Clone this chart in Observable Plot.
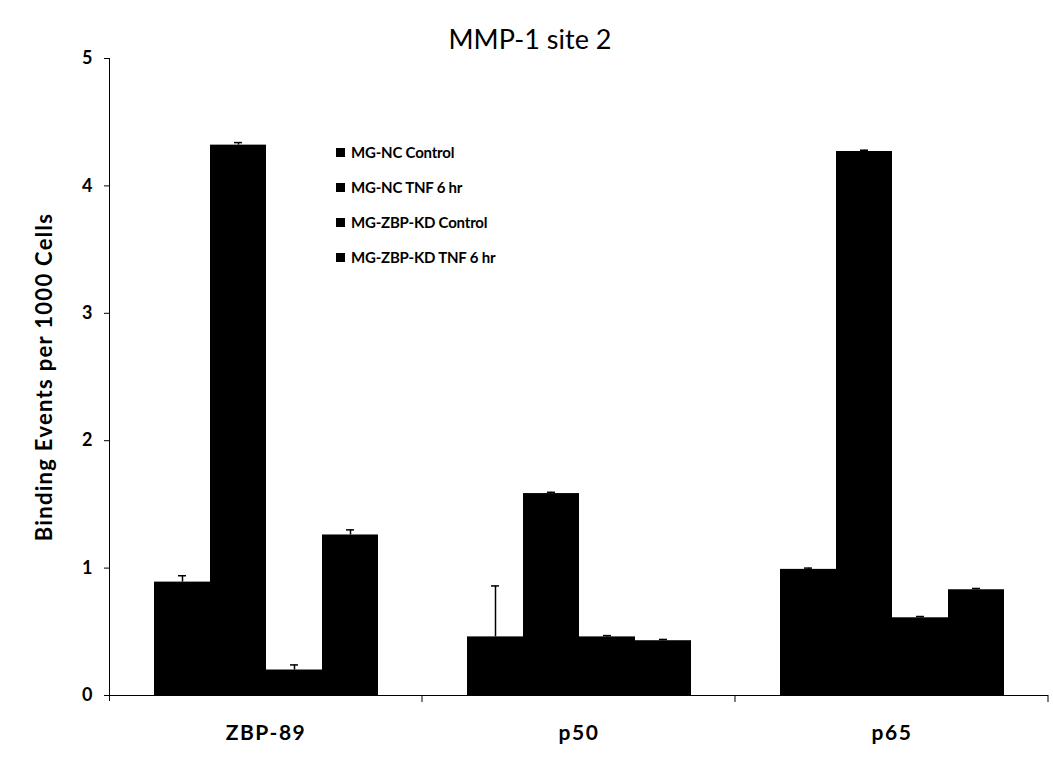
<!DOCTYPE html>
<html>
<head>
<meta charset="utf-8">
<script src="https://cdn.jsdelivr.net/npm/d3@7"></script>
<script src="https://cdn.jsdelivr.net/npm/@observablehq/plot@0.6"></script>
<style>
  body { margin: 0; background: #fff; font-family: Lato, "Open Sans", sans-serif; }
  #wrap { position: relative; width: 1053px; height: 776px; }
  #title { position: absolute; top: 25px; left: 0; width: 1060px; text-align: center; font-size: 27px; line-height: 27px; color: #000; }
  #legend { position: absolute; left: 336px; top: 143px; font-weight: bold; font-size: 15px; letter-spacing: -0.2px; color: #000; }
  #legend .row { height: 35px; display: flex; align-items: flex-start; }
  #legend .sw { width: 9px; height: 9px; background: #000; margin-right: 6px; margin-top: 5px; }
</style>
</head>
<body>
<div id="wrap">
  <div id="title">MMP-1 site 2</div>
  <div id="chart"></div>
  <div id="legend"></div>
</div>
<script>
const categories = ["ZBP-89", "p50", "p65"];
const seriesNames = ["MG-NC Control", "MG-NC TNF 6 hr", "MG-ZBP-KD Control", "MG-ZBP-KD TNF 6 hr"];
// values per category, in series order
const zbp89Values = [0.89, 4.32, 0.20, 1.26];
const p50Values   = [0.46, 1.585, 0.46, 0.43];
const p65Values   = [0.99, 4.27, 0.61, 0.83];
const zbp89Errors = [0.05, 0.02, 0.04, 0.04];
const p50Errors   = [0.40, 0.01, 0.01, 0.01];
const p65Errors   = [0.01, 0.01, 0.01, 0.01];
const yTicks = [0, 1, 2, 3, 4, 5];
const yLabel = "Binding Events per 1000 Cells";

const valueLists = [zbp89Values, p50Values, p65Values];
const errorLists = [zbp89Errors, p50Errors, p65Errors];
const data = [];
categories.forEach((c, i) => {
  seriesNames.forEach((s, j) => {
    data.push({cat: c, series: s, value: valueLists[i][j], err: errorLists[i][j]});
  });
});

const plot = Plot.plot({
  width: 1053,
  height: 776,
  marginLeft: 109,
  marginRight: 5,
  marginTop: 58,
  marginBottom: 81,
  style: {fontFamily: "Lato, 'Open Sans', sans-serif", background: "#fff", color: "#000"},
  fx: {domain: categories, padding: 0, label: null},
  x: {domain: seriesNames, paddingInner: 0, paddingOuter: 0.77, axis: null},
  y: {domain: [0, 5], label: yLabel},
  marks: [
    Plot.barY(data, {fx: "cat", x: "series", y: "value", fill: "#000", inset: 0}),
    Plot.ruleX(data, {fx: "cat", x: "series", y1: "value", y2: d => d.value + d.err, stroke: "#000", strokeWidth: 1.5}),
    Plot.tickY(data, {fx: "cat", x: "series", y: d => d.value + d.err, stroke: "#000", strokeWidth: 1.5, insetLeft: 24, insetRight: 24}),
    Plot.ruleY([0], {stroke: "#000", strokeWidth: 1}),
    Plot.axisY({ticks: yTicks, tickFormat: "d", tickSize: 5, tickPadding: 12, fontSize: 18, fontWeight: "bold",
      label: yLabel, labelAnchor: "center", labelArrow: "none", labelOffset: 73}),
    Plot.axisFx({anchor: "bottom", tickSize: 0, tickPadding: 30, fontSize: 21, fontWeight: "bold", label: null})
  ]
});
document.getElementById("chart").appendChild(plot);

const svg = d3.select(plot);
svg.selectAll("[aria-label='y-axis label'] text")
  .attr("font-size", 22).attr("font-weight", "bold").style("letter-spacing", "1.3px");
svg.selectAll("[aria-label='fx-axis tick label'] text").style("letter-spacing", "1.5px");

// y axis line and category boundary ticks, positioned through the plot's scales
const yS = plot.scale("y");
const fxS = plot.scale("fx");
const y0 = yS.apply(0), y5 = yS.apply(5);
const g = svg.append("g").attr("stroke", "#000").attr("stroke-width", 1);
const xLeft = fxS.apply(categories[0]);
g.append("line").attr("x1", xLeft + 0.5).attr("x2", xLeft + 0.5).attr("y1", y5).attr("y2", y0 + 6);
categories.forEach(c => {
  const xr = fxS.apply(c) + fxS.bandwidth;
  g.append("line").attr("x1", xr).attr("x2", xr).attr("y1", y0).attr("y2", y0 + 7);
});

// legend
const leg = document.getElementById("legend");
seriesNames.forEach(s => {
  const r = document.createElement("div");
  r.className = "row";
  r.innerHTML = `<div class="sw"></div><span>${s}</span>`;
  leg.appendChild(r);
});
</script>
</body>
</html>
